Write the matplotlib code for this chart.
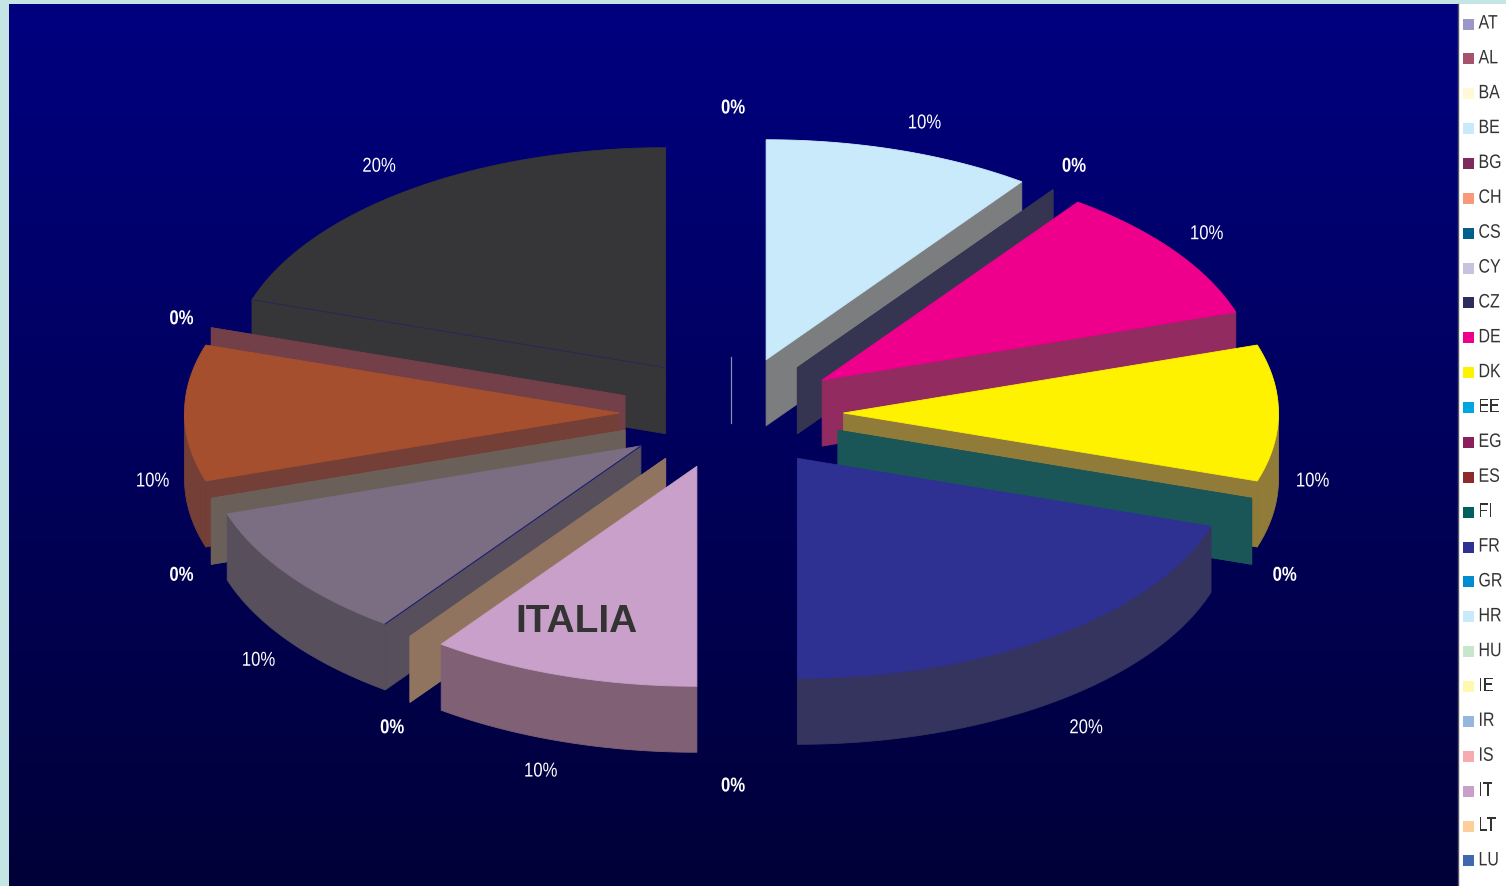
import numpy as np
import matplotlib
matplotlib.use("Agg")
import matplotlib.pyplot as plt
from matplotlib.patches import Polygon, Rectangle
from matplotlib.patheffects import AbstractPathEffect
from matplotlib.transforms import Affine2D

# legend (only the part visible in the picture)
legend_names = ["AT", "AL", "BA", "BE", "BG", "CH", "CS", "CY", "CZ", "DE", "DK", "EE", "EG",
                "ES", "FI", "FR", "GR", "HR", "HU", "IE", "IR", "IS", "IT", "LT", "LU"]
legend_colors = ["#9C97C9", "#A5526A", "#FFF9D6", "#C8EAFA", "#7E2A5C", "#F9997A", "#005F8C",
                 "#C6C3E0", "#2E2C5E", "#EE008C", "#FFF200", "#00A6E0", "#8A1F5C", "#8C2A2C",
                 "#006060", "#2E3192", "#008CCF", "#C8EAFA", "#C8E6C9", "#FFF9B0", "#94B6DF",
                 "#F7ABB0", "#C8A0CA", "#FDCE99", "#3F68AE"]

# slices clockwise from 12 o'clock
slice_names = ["AT", "BE", "CZ", "DE", "DK", "FI", "FR", "GR", "IT", "LT", "NL", "PT", "SE", "SK", "UK"]
slice_values = [0, 10, 0, 10, 10, 0, 20, 0, 10, 0, 10, 0, 10, 0, 20]
top_colors = ["#8C8CB0", "#C8EAFA", "#2E2C5E", "#EE008C", "#FFF200", "#006060", "#2E3192", None,
              "#C8A0CA", "#FDCE99", "#7B6E82", "#A89A86", "#A64F2E", "#7D3C3C", "#363538"]
wall_colors = ["#8C8CB0", "#7B7D7F", "#353551", "#912B60", "#917B38", "#1A5658", "#35345F", None,
               "#806075", "#907460", "#574F5B", "#6B6059", "#733F36", "#733F48", "#363538"]
edge_colors = [None, None, None, None, None, None, None, None,
               None, None, "#1A1A70", None, None, None, "#2A2A50"]

cx, cy = 731.5, 414
rx, ry = 435, 220
ex, ey = 112, 56
depth = 66
lab_rx, lab_ry = 580, 305


# the original text is a narrow face, squeeze the glyphs sideways
class Squeeze(AbstractPathEffect):
    def __init__(self, sx):
        super().__init__()
        self.sx = sx

    def draw_path(self, renderer, gc, tpath, affine, rgbFace=None):
        renderer.draw_path(gc, tpath, Affine2D().scale(self.sx, 1) + affine, rgbFace)


fig = plt.figure(figsize=(15.06, 8.87), dpi=100, facecolor="#C5E5E5")
ax = fig.add_axes([0, 0, 1, 1])

# background
grad = np.linspace(0, 1, 256).reshape(-1, 1)
bg = np.zeros((256, 1, 3))
bg[:, :, 2] = (128 - 72 * grad) / 255
ax.imshow(bg, extent=(9, 1458, 887, 5), aspect="auto", zorder=0)
ax.set_xlim(0, 1506)
ax.set_ylim(887, 0)
ax.axis("off")
ax.add_patch(Rectangle((1458, 5), 48, 882, fc="white", ec="none", zorder=1))
ax.plot([1458, 1458], [5, 887], color="#555566", lw=1, zorder=1)


def pt(th, r_x, r_y, ox, oy):
    return ox + r_x * np.sin(th), oy - r_y * np.cos(th)


# angles
total = sum(slice_values)
slices = []
a = 0.0
for i in range(len(slice_names)):
    b = a + slice_values[i] / total * 2 * np.pi
    slices.append((a, b, i))
    a = b

# back to front
for a, b, i in sorted(slices, key=lambda s: -np.cos((s[0] + s[1]) / 2)):
    if top_colors[i] is None:
        continue
    mid = (a + b) / 2
    ox = cx + ex * np.sin(mid)
    oy = cy - ey * np.cos(mid)
    wall = wall_colors[i]
    z = 2
    # cut faces
    for th, show in ((a, np.sin(a) < -1e-6), (b, np.sin(b) > 1e-6)):
        if abs(np.sin(th)) < 1e-6:
            if slice_values[i] == 0:
                ax.plot([ox, ox], [oy, oy + depth], color=wall, lw=0.8, zorder=z)
            continue
        if show or slice_values[i] == 0:
            x1, y1 = pt(th, rx, ry, ox, oy)
            ax.add_patch(Polygon([(ox, oy), (x1, y1), (x1, y1 + depth), (ox, oy + depth)],
                                 fc=wall, ec=wall, lw=0.6, zorder=z))
    if slice_values[i] == 0:
        continue
    # outer rim, front half only
    lo, hi = max(a, np.pi / 2), min(b, 3 * np.pi / 2)
    if hi > lo:
        t = np.linspace(lo, hi, 60)
        xs, ys = pt(t, rx, ry, ox, oy)
        rim = list(zip(xs, ys)) + list(zip(xs[::-1], ys[::-1] + depth))
        ax.add_patch(Polygon(rim, fc=wall, ec=wall, lw=0.6, zorder=z))
    # top
    t = np.linspace(a, b, 80)
    xs, ys = pt(t, rx, ry, ox, oy)
    ax.add_patch(Polygon([(ox, oy)] + list(zip(xs, ys)), fc=top_colors[i], ec=top_colors[i], lw=0.6, zorder=z))
    if edge_colors[i] is not None:
        x1, y1 = pt(a, rx, ry, ox, oy)
        ax.plot([ox, x1], [oy, y1], color=edge_colors[i], lw=0.8, zorder=z)

# percent labels
for a, b, i in slices:
    mid = (a + b) / 2
    v = slice_values[i]
    r_x = lab_rx + (50 * np.cos(mid) ** 4 if v > 0 else 0)
    lx, ly = pt(mid, r_x, lab_ry, cx + 1, cy)
    if np.cos(mid) < 0.01:
        ly += depth + 2
    s = "%d%%" % v
    shift = 3 if v == 0 else 3.5  # squeeze keeps the left end, bring it back to centre
    ax.text(lx + shift, ly, s, color="white", fontsize=14.5, family="Liberation Sans",
            fontweight="bold" if v == 0 else "normal", ha="center", va="center", zorder=5,
            path_effects=[Squeeze(0.83)])

ax.text(577, 622, "ITALIA", color="#333333", fontsize=28, fontweight="bold",
        family="Liberation Sans", ha="center", va="center", zorder=5)

# legend
for k in range(len(legend_names)):
    y = 25 + k * 34.87
    ax.add_patch(Rectangle((1463, y - 5.5), 11, 11, fc=legend_colors[k], ec="none", zorder=3))
    ax.text(1478.5, y, legend_names[k], color="#333333", fontsize=14, family="Liberation Sans",
            ha="left", va="center", zorder=3, path_effects=[Squeeze(0.82)])

fig.savefig("out.png", dpi=100, facecolor=fig.get_facecolor())
